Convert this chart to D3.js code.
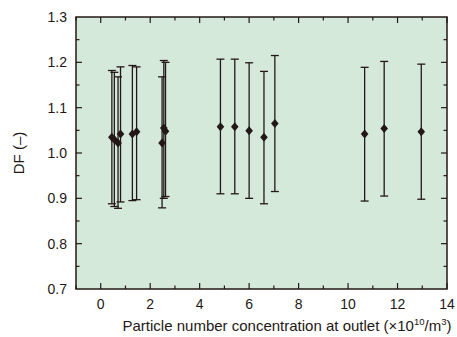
<!DOCTYPE html>
<html>
<head>
<meta charset="utf-8">
<script src="https://cdn.jsdelivr.net/npm/d3@7"></script>
<style>
  body { margin: 0; background: #fff; }
  text { font-family: "Liberation Sans", Arial, sans-serif; fill: #231815; }
</style>
</head>
<body>
<div id="chart"></div>
<script>
// data
const conc  = [0.45, 0.55, 0.70, 0.80, 1.28, 1.45, 2.48, 2.55, 2.62, 4.84, 5.42, 6.00, 6.60, 7.04, 10.67, 11.46, 12.96];
const df    = [1.035, 1.030, 1.022, 1.042, 1.042, 1.047, 1.022, 1.055, 1.048, 1.058, 1.058, 1.049, 1.035, 1.065, 1.042, 1.054, 1.047];
const dfLow = [0.888, 0.882, 0.878, 0.892, 0.895, 0.897, 0.879, 0.900, 0.904, 0.910, 0.910, 0.900, 0.888, 0.915, 0.894, 0.905, 0.898];
const dfHigh= [1.182, 1.178, 1.168, 1.190, 1.193, 1.190, 1.168, 1.204, 1.200, 1.207, 1.207, 1.199, 1.180, 1.215, 1.189, 1.202, 1.196];

const xTicks = [0, 2, 4, 6, 8, 10, 12, 14];
const yTicks = [0.7, 0.8, 0.9, 1.0, 1.1, 1.2, 1.3];

const width = 457, height = 337;
const margin = {top: 17, left: 76, right: 10, bottom: 48};
const ink = "#231815";

const svg = d3.select("#chart").append("svg")
    .attr("width", width)
    .attr("height", height);

const xScale = d3.scaleLinear().domain([-1, 14]).range([margin.left, width - margin.right]);
const yScale = d3.scaleLinear().domain([0.7, 1.3]).range([height - margin.bottom, margin.top]);

const x0 = margin.left, x1 = width - margin.right;
const y0 = height - margin.bottom, y1 = margin.top;

// plot background
svg.append("rect")
    .attr("x", x0).attr("y", y1)
    .attr("width", x1 - x0).attr("height", y0 - y1)
    .attr("fill", "#d5e9da");

// inward ticks on all four sides
const xMinor = d3.range(-1, 14.01, 1).filter(v => v % 2 !== 0);
const yMinor = d3.range(0.75, 1.3, 0.1);

function xTickMarks(vals, len) {
  svg.append("g").selectAll("line").data(vals).enter().append("line")
      .attr("x1", d => xScale(d)).attr("x2", d => xScale(d))
      .attr("y1", y0).attr("y2", y0 - len)
      .attr("stroke", ink).attr("stroke-width", 1.2);
  svg.append("g").selectAll("line").data(vals).enter().append("line")
      .attr("x1", d => xScale(d)).attr("x2", d => xScale(d))
      .attr("y1", y1).attr("y2", y1 + len)
      .attr("stroke", ink).attr("stroke-width", 1.2);
}
function yTickMarks(vals, len) {
  svg.append("g").selectAll("line").data(vals).enter().append("line")
      .attr("y1", d => yScale(d)).attr("y2", d => yScale(d))
      .attr("x1", x0).attr("x2", x0 + len)
      .attr("stroke", ink).attr("stroke-width", 1.2);
  svg.append("g").selectAll("line").data(vals).enter().append("line")
      .attr("y1", d => yScale(d)).attr("y2", d => yScale(d))
      .attr("x1", x1).attr("x2", x1 - len)
      .attr("stroke", ink).attr("stroke-width", 1.2);
}
xTickMarks(xTicks, 6);
xTickMarks(xMinor, 3.5);
yTickMarks(yTicks.slice(1, -1), 6);
yTickMarks(yMinor, 3.5);

// frame
svg.append("rect")
    .attr("x", x0).attr("y", y1)
    .attr("width", x1 - x0).attr("height", y0 - y1)
    .attr("fill", "none")
    .attr("stroke", ink).attr("stroke-width", 1.5);

// tick labels
svg.append("g").selectAll("text").data(xTicks).enter().append("text")
    .attr("x", d => xScale(d))
    .attr("y", y0 + 20)
    .attr("text-anchor", "middle")
    .attr("font-size", "14px")
    .text(d => d);

svg.append("g").selectAll("text").data(yTicks).enter().append("text")
    .attr("x", x0 - 9)
    .attr("y", d => yScale(d) + 5)
    .attr("text-anchor", "end")
    .attr("font-size", "14px")
    .text(d => d.toFixed(1));

// error bars
const idx = d3.range(conc.length);
const cap = 4;
const bars = svg.append("g").attr("stroke", ink).attr("stroke-width", 1.3);
bars.selectAll(".stem").data(idx).enter().append("line")
    .attr("x1", i => xScale(conc[i])).attr("x2", i => xScale(conc[i]))
    .attr("y1", i => yScale(dfLow[i])).attr("y2", i => yScale(dfHigh[i]));
bars.selectAll(".top").data(idx).enter().append("line")
    .attr("x1", i => xScale(conc[i]) - cap).attr("x2", i => xScale(conc[i]) + cap)
    .attr("y1", i => yScale(dfHigh[i])).attr("y2", i => yScale(dfHigh[i]));
bars.selectAll(".bot").data(idx).enter().append("line")
    .attr("x1", i => xScale(conc[i]) - cap).attr("x2", i => xScale(conc[i]) + cap)
    .attr("y1", i => yScale(dfLow[i])).attr("y2", i => yScale(dfLow[i]));

// diamond markers
const diamond = "M0,-4.5L3.8,0L0,4.5L-3.8,0Z";
svg.append("g").selectAll("path").data(idx).enter().append("path")
    .attr("d", diamond)
    .attr("transform", i => `translate(${xScale(conc[i])},${yScale(df[i])})`)
    .attr("fill", ink);

// axis titles
const xl = svg.append("text")
    .attr("x", 287)
    .attr("y", height - 6)
    .attr("text-anchor", "middle")
    .attr("font-size", "15px");
xl.append("tspan").text("Particle number concentration at outlet (\u00d710");
xl.append("tspan").attr("font-size", "9.5px").attr("dy", -6).text("10");
xl.append("tspan").attr("dy", 6).text("/m");
xl.append("tspan").attr("font-size", "9.5px").attr("dy", -6).text("3");
xl.append("tspan").attr("dy", 6).text(")");

svg.append("text")
    .attr("transform", `translate(24,${(y0 + y1) / 2}) rotate(-90)`)
    .attr("text-anchor", "middle")
    .attr("font-size", "15px")
    .text("DF (\u2013)");
</script>
</body>
</html>
